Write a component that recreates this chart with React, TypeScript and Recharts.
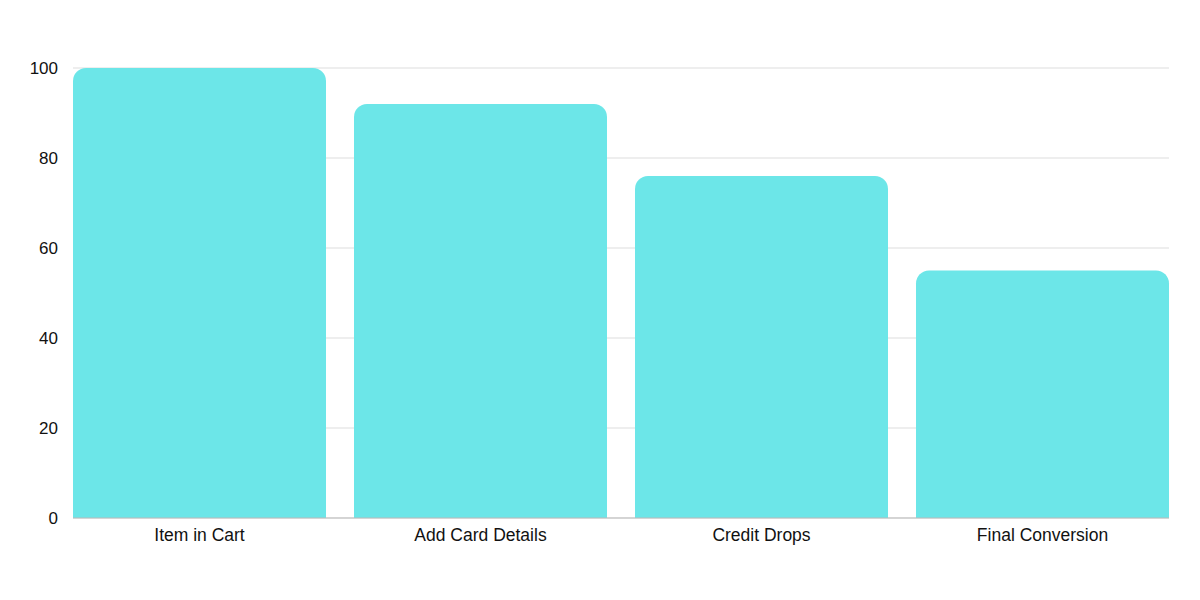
import React from 'react';
import { BarChart, Bar, XAxis, YAxis, CartesianGrid } from 'recharts';

// --- Data ---
const stages = ['Item in Cart', 'Add Card Details', 'Credit Drops', 'Final Conversion'];
const values = [100, 92, 76, 55];
const yTicks = [0, 20, 40, 60, 80, 100];

const data = stages.map((name, i) => ({ name, value: values[i] }));

const BAR_COLOR = '#6ce6e8';
const FONT = '"Liberation Sans", Arial, sans-serif';

const App: React.FC = () => {
  return (
    <div style={{ position: 'absolute', left: 0, top: 0, width: 1200, height: 600, background: '#fff' }}>
      <BarChart
        width={1200}
        height={600}
        data={data}
        margin={{ top: 68, right: 31, left: 0, bottom: 52 }}
        barCategoryGap={14}
      >
        <CartesianGrid vertical={false} stroke="#dddddd" />
        <XAxis
          dataKey="name"
          height={30}
          padding={{ left: -14, right: -14 }}
          axisLine={{ stroke: '#bbbbbb' }}
          tickLine={false}
          tickSize={6}
          tickMargin={5}
          tick={{ fill: '#111', fontSize: 17.5, fontFamily: FONT }}
        />
        <YAxis
          width={73}
          domain={[0, 100]}
          ticks={yTicks}
          axisLine={false}
          tickLine={false}
          tickSize={6}
          tickMargin={9}
          tick={{ fill: '#111', fontSize: 17, fontFamily: FONT }}
        />
        <Bar dataKey="value" fill={BAR_COLOR} radius={[13, 13, 0, 0]} isAnimationActive={false} />
      </BarChart>
    </div>
  );
};

export default App;
